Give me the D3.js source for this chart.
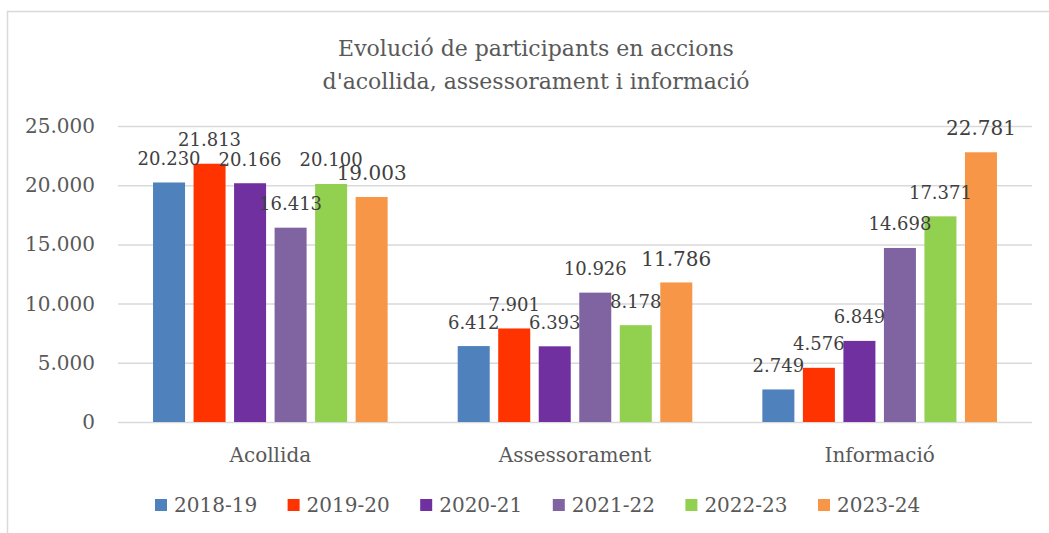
<!DOCTYPE html>
<html>
<head>
<meta charset="utf-8">
<script src="https://cdn.jsdelivr.net/npm/d3@7"></script>
<style>
  body { margin: 0; background: #fff; }
  svg text { font-family: "DejaVu Serif", serif; fill: #595959; }
</style>
</head>
<body>
<div id="chart"></div>
<script>
// dades
const categories = ["Acollida", "Assessorament", "Informació"];
const years = ["2018-19", "2019-20", "2020-21", "2021-22", "2022-23", "2023-24"];
const acollida = [20230, 21813, 20166, 16413, 20100, 19003];
const assessorament = [6412, 7901, 6393, 10926, 8178, 11786];
const informacio = [2749, 4576, 6849, 14698, 17371, 22781];
const yTicks = [0, 5000, 10000, 15000, 20000, 25000];
const titleLines = ["Evolució de participants en accions", "d'acollida, assessorament i informació"];

const colors = ["#4F81BD", "#FF3300", "#7030A0", "#8064A2", "#92D050", "#F79646"];
const rows = [acollida, assessorament, informacio];

const W = 1049, H = 533;
const plotLeft = 118, plotRight = 1032, plotTop = 126, plotBottom = 422;

const loc = d3.formatLocale({ decimal: ",", thousands: ".", grouping: [3], currency: ["", "€"] });
const fmt = loc.format(",d");

const svg = d3.select("#chart").append("svg")
  .attr("width", W).attr("height", H);

// marc del gràfic
svg.append("rect")
  .attr("x", 7.5).attr("y", 11.5)
  .attr("width", 1100).attr("height", 600)
  .attr("fill", "none").attr("stroke", "#d9d9d9").attr("stroke-width", 1.5);

// títol
svg.append("text")
  .attr("text-anchor", "middle")
  .attr("font-size", 22)
  .selectAll("tspan").data(titleLines).join("tspan")
  .attr("x", 536)
  .attr("y", (d, i) => 56 + i * 33)
  .text(d => d);

const x0 = d3.scaleBand().domain(categories).range([plotLeft, plotRight]);
const x1 = d3.scaleBand().domain(years)
  .range([x0.bandwidth() * 0.115, x0.bandwidth() * 0.885])
  .paddingInner(0.21);
const y = d3.scaleLinear().domain([0, 25000]).range([plotBottom, plotTop]);

// eix y + graella
const yAxis = svg.append("g")
  .attr("transform", `translate(${plotLeft},0)`)
  .call(d3.axisLeft(y).tickValues(yTicks).tickFormat(fmt)
    .tickSize(-(plotRight - plotLeft)).tickPadding(23));
yAxis.select(".domain").remove();
yAxis.selectAll(".tick line").attr("stroke", "#d9d9d9").attr("stroke-width", 1.5);
yAxis.selectAll(".tick text")
  .attr("font-size", 20).attr("fill", "#595959")
  .style("font-family", "DejaVu Serif");

// barres
const groups = svg.append("g").selectAll("g")
  .data(categories).join("g")
  .attr("transform", d => `translate(${x0(d)},0)`);

groups.selectAll("rect")
  .data((c, ci) => years.map((yr, i) => ({ yr, i, v: rows[ci][i] })))
  .join("rect")
  .attr("x", d => x1(d.yr))
  .attr("width", x1.bandwidth())
  .attr("y", d => y(d.v))
  .attr("height", d => y(0) - y(d.v))
  .attr("fill", d => colors[d.i]);

// etiquetes de dades
groups.selectAll("text")
  .data((c, ci) => years.map((yr, i) => ({ yr, i, v: rows[ci][i] })))
  .join("text")
  .attr("x", d => x1(d.yr) + x1.bandwidth() / 2)
  .attr("y", d => y(d.v) - 24)
  .attr("dy", "0.36em")
  .attr("text-anchor", "middle")
  .attr("font-size", d => d.i === 5 ? 20 : 18)
  .style("fill", "#404040")
  .text(d => fmt(d.v));

// etiquetes de categoria
svg.append("g").selectAll("text")
  .data(categories).join("text")
  .attr("x", d => x0(d) + x0.bandwidth() / 2)
  .attr("y", 462)
  .attr("text-anchor", "middle")
  .attr("font-size", 20)
  .text(d => d);

// llegenda
const legend = svg.append("g").selectAll("g")
  .data(years).join("g")
  .attr("transform", (d, i) => `translate(${155 + i * 132.6},0)`);
legend.append("rect")
  .attr("x", 0).attr("y", 499)
  .attr("width", 12).attr("height", 12)
  .attr("fill", (d, i) => colors[i]);
legend.append("text")
  .attr("x", 19).attr("y", 512)
  .attr("font-size", 20)
  .text(d => d);
</script>
</body>
</html>
